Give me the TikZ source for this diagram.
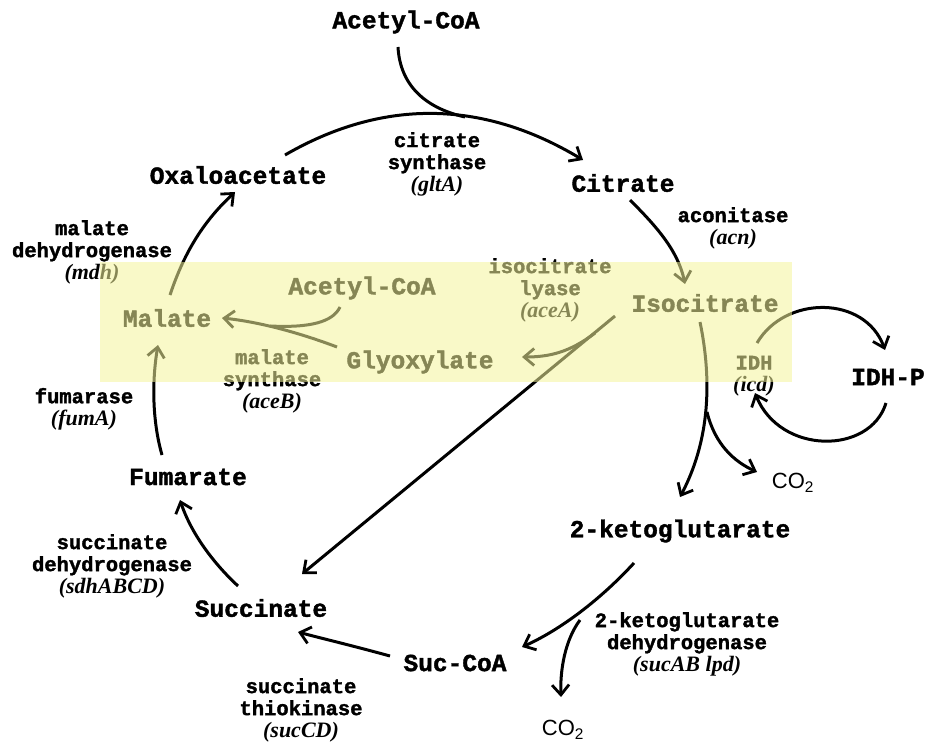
\documentclass[tikz,border=0pt]{standalone}
\usepackage{fontspec}
\usetikzlibrary{arrows.meta}
\newfontfamily\courfont{Liberation Mono}[BoldFeatures={FakeBold=1.6}]
\newfontfamily\timesfont{Liberation Serif}[ItalicFeatures={FakeBold=0.6}]
\newfontfamily\arialfont{Liberation Sans}
\definecolor{boxyellow}{RGB}{245,245,155}
\newcommand\genename[1]{{\timesfont\itshape\fontsize{22}{22}\selectfont(#1)}}
\newcommand\cotwo{{\arialfont\fontsize{22}{22}\selectfont CO\textsubscript{2}}}
\begin{document}
\begin{tikzpicture}[x=1pt,y=-1pt,
  met/.style={inner sep=0pt, font=\courfont\bfseries\fontsize{24.5}{26}\selectfont},
  enz/.style={inner sep=0pt, align=center, font=\courfont\bfseries\fontsize{20.5}{22}\selectfont},
  gas/.style={inner sep=0pt},
  arr/.style={line width=3pt, -{Straight Barb[length=10pt,width=17pt,line width=2.8pt]}},
  ln/.style={line width=3pt},
  overlay box/.style={fill=boxyellow, opacity=0.55},
]
\useasboundingbox (0,0) rectangle (925,751);
\fill[white] (0,0) rectangle (925,751);

% metabolites
\node[met] (acoa)  at (406,22)  {Acetyl-CoA};
\node[met] (oxa)   at (238,175) {Oxaloacetate};
\node[met] (cit)   at (623,183) {Citrate};
\node[met] (iso)   at (705,303) {Isocitrate};
\node[met] (mal)   at (167,318) {Malate};
\node[met] (acoa2) at (362,288) {Acetyl-CoA};
\node[met] (gly)   at (420,362) {Glyoxylate};
\node[met] (idhp)  at (888,377) {IDH-P};
\node[gas] (co2a)  at (793,483) {\cotwo};
\node[met] (kg)    at (680,531) {2-ketoglutarate};
\node[met] (fum)   at (188,477) {Fumarate};
\node[met] (suc)   at (261,608) {Succinate};
\node[met] (succoa) at (455,663) {Suc-CoA};
\node[gas] (co2b)  at (563,730) {\cotwo};

% enzymes
\node[enz] (cs)   at (437,164) {citrate\\synthase\\\genename{gltA}};
\node[enz] (acn)  at (733,228) {aconitase\\\genename{acn}};
\node[enz] (mdh)  at (92,252)  {malate\\dehydrogenase\\\genename{mdh}};
\node[enz] (icl)  at (550,290) {isocitrate\\lyase\\\genename{aceA}};
\node[enz] (ms)   at (272,381) {malate\\synthase\\\genename{aceB}};
\node[enz] (idh)  at (754,376) {IDH\\\genename{icd}};
\node[enz] (fumA) at (84,409)  {fumarase\\\genename{fumA}};
\node[enz] (sdh)  at (112,566) {succinate\\dehydrogenase\\\genename{sdhABCD}};
\node[enz] (sck)  at (301,710) {succinate\\thiokinase\\\genename{sucCD}};
\node[enz] (kgd)  at (687,644) {2-ketoglutarate\\dehydrogenase\\\genename{sucAB lpd}};

% connector end points
\coordinate (oxaS) at (285,155);
\coordinate (citE) at (583,160);
\coordinate (acoaS) at (398,47);
\coordinate (acoaJ) at (465,117);
\coordinate (malN) at (170,295);
\coordinate (oxaE) at (235,192);
\coordinate (citS) at (630,200);
\coordinate (isoE) at (685,284);
\coordinate (isoS) at (700,322);
\coordinate (kgE)  at (680,497);
\coordinate (isoB) at (707,412);
\coordinate (co2aE) at (757,472);
\coordinate (isoL) at (615,316);
\coordinate (sucE) at (302,574);
\coordinate (glyB) at (595,333);
\coordinate (glyE) at (522,357);
\coordinate (glyS) at (337,347);
\coordinate (malE) at (222,318);
\coordinate (acoa2S) at (340,307);
\coordinate (acoa2J) at (270,326);
\coordinate (fumN) at (162,455);
\coordinate (malS) at (158,345);
\coordinate (sucN) at (238,586);
\coordinate (fumE) at (180,500);
\coordinate (succoaW) at (390,656);
\coordinate (sucE2) at (298,632);
\coordinate (kgS) at (634,563);
\coordinate (succoaE) at (522,647);
\coordinate (kgB) at (580,620);
\coordinate (co2bE) at (561,697);
\coordinate (idhS) at (757,343);
\coordinate (idhpE) at (885,350);
\coordinate (idhpS) at (886,403);
\coordinate (idhE) at (755,393);

% connectors
\draw[arr] (oxaS) .. controls (380,100) and (480,98) .. (citE);
\draw[ln] (acoaS) .. controls (400,85) and (425,108) .. (acoaJ);
\draw[arr] (malN) .. controls (185,250) and (205,220) .. (oxaE);
\draw[arr] (citS) .. controls (655,225) and (678,250) .. (isoE);
\draw[arr] (isoS) .. controls (712,380) and (710,440) .. (kgE);
\draw[arr] (isoB) .. controls (715,445) and (735,462) .. (co2aE);
\draw[arr] (isoL) -- (sucE);
\draw[arr] (glyB) .. controls (570,352) and (550,357) .. (glyE);
\draw[arr] (glyS) .. controls (300,333) and (260,322) .. (malE);
\draw[ln] (acoa2S) .. controls (333,322) and (310,328) .. (acoa2J);
\draw[arr] (fumN) .. controls (152,420) and (152,380) .. (malS);
\draw[arr] (sucN) .. controls (210,560) and (190,530) .. (fumE);
\draw[arr] (succoaW) .. controls (350,645) and (320,638) .. (sucE2);
\draw[arr] (kgS) .. controls (600,600) and (560,630) .. (succoaE);
\draw[arr] (kgB) .. controls (565,640) and (560,670) .. (co2bE);
\draw[arr] (idhS) .. controls (785,295) and (865,295) .. (idhpE);
\draw[arr] (idhpS) .. controls (870,455) and (780,455) .. (idhE);

% glyoxylate shunt highlight
\fill[overlay box] (100,262) rectangle (792,382);
\end{tikzpicture}
\end{document}
